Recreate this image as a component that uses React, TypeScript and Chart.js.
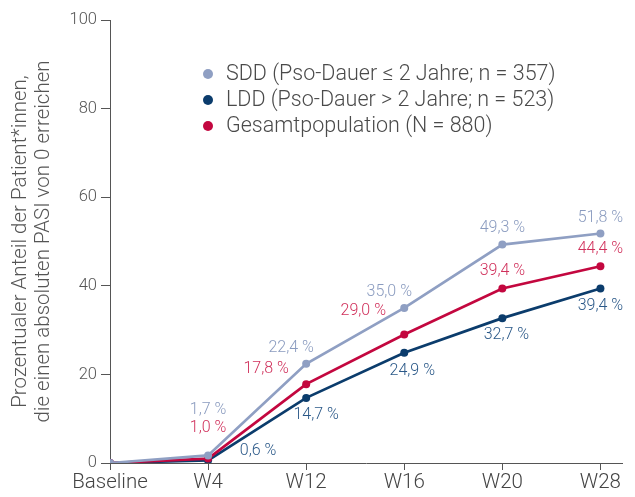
import React, { useEffect, useRef } from "react";
import { Chart, registerables } from "chart.js";

Chart.register(...registerables);

const categories = ["Baseline", "W4", "W12", "W16", "W20", "W28"];
const sddValues = [0, 1.7, 22.4, 35.0, 49.3, 51.8];
const lddValues = [0, 0.6, 14.7, 24.9, 32.7, 39.4];
const gesamtValues = [0, 1.0, 17.8, 29.0, 39.4, 44.4];
const seriesNames = [
  "SDD (Pso-Dauer ≤ 2 Jahre; n = 357)",
  "LDD (Pso-Dauer > 2 Jahre; n = 523)",
  "Gesamtpopulation (N = 880)",
];
const yTicks = [0, 20, 40, 60, 80, 100];
const yTitle = [
  "Prozentualer Anteil der Patient*innen,",
  "die einen absoluten PASI von 0 erreichen",
];

// label offsets (styling) per series and point, in px relative to the point
const sddOffsets = [null, [0, -45], [-15, -16], [-15, -16], [0, -17], [0, -16]];
const lddOffsets = [null, [50, -9], [10, 17], [8, 18], [4, 17], [0, 18]];
const gesamtOffsets = [null, [0, -31], [-40, -15], [-41, -24], [0, -17], [0, -17]];

const FONT = "Roboto";
const C_SDD = "#8f9fc3";
const C_LDD = "#0b3c6c";
const C_GES = "#c3073f";
const L_SDD = "#8a9bbf";
const L_LDD = "#2a5888";
const L_GES = "#d0305b";

const fmt = (v: number) => v.toFixed(1).replace(".", ",") + " %";

const labelPlugin = {
  id: "valueLabels",
  afterDatasetsDraw(chart: any) {
    const ctx = chart.ctx;
    ctx.save();
    ctx.font = `300 16px ${FONT}`;
    ctx.textAlign = "center";
    ctx.textBaseline = "middle";
    chart.data.datasets.forEach((ds: any, di: number) => {
      const meta = chart.getDatasetMeta(di);
      const offs = ds._offsets;
      meta.data.forEach((pt: any, i: number) => {
        const o = offs[i];
        if (!o) return;
        ctx.fillStyle = ds._labelColor;
        ctx.fillText(fmt(ds.data[i].y), pt.x + o[0], pt.y + o[1]);
      });
    });
    ctx.restore();
  },
};

const legendPlugin = {
  id: "customLegend",
  afterDraw(chart: any) {
    const ctx = chart.ctx;
    ctx.save();
    ctx.font = `300 21.5px ${FONT}`;
    ctx.textBaseline = "middle";
    ctx.textAlign = "left";
    const x0 = 208;
    const y0 = 74;
    const dy = 26;
    chart.data.datasets.forEach((ds: any, i: number) => {
      const y = y0 + i * dy;
      ctx.fillStyle = ds.borderColor;
      ctx.beginPath();
      ctx.arc(x0, y, 5, 0, Math.PI * 2);
      ctx.fill();
      ctx.fillStyle = "#4a4a4a";
      ctx.fillText(ds.label, x0 + 18, y + 1);
    });
    ctx.restore();
  },
};

export default function App() {
  const ref = useRef<HTMLCanvasElement>(null);
  useEffect(() => {
    if (!ref.current) return;
    const mk = (vals: number[]) => vals.map((y, i) => ({ x: i, y }));
    const chart = new Chart(ref.current, {
      type: "line",
      data: {
        datasets: [
          {
            label: seriesNames[0],
            data: mk(sddValues),
            borderColor: C_SDD,
            backgroundColor: C_SDD,
            borderWidth: 2.7,
            pointRadius: 4,
            pointBorderWidth: 0,
            order: 0,
            _offsets: sddOffsets,
            _labelColor: L_SDD,
          } as any,
          {
            label: seriesNames[1],
            data: mk(lddValues),
            borderColor: C_LDD,
            backgroundColor: C_LDD,
            borderWidth: 2.7,
            pointRadius: 4,
            pointBorderWidth: 0,
            order: 2,
            _offsets: lddOffsets,
            _labelColor: L_LDD,
          } as any,
          {
            label: seriesNames[2],
            data: mk(gesamtValues),
            borderColor: C_GES,
            backgroundColor: C_GES,
            borderWidth: 2.7,
            pointRadius: 4,
            pointBorderWidth: 0,
            order: 1,
            _offsets: gesamtOffsets,
            _labelColor: L_GES,
          } as any,
        ],
      },
      options: {
        animation: false,
        responsive: false,
        layout: { padding: { top: 20, right: 13, left: 0, bottom: 0 } },
        plugins: {
          legend: { display: false },
          tooltip: { enabled: false },
        },
        scales: {
          x: {
            type: "linear",
            min: 0,
            max: 5.22,
            afterBuildTicks: (s: any) => {
              s.ticks = categories.map((_, i) => ({ value: i }));
            },
            afterFit: (s: any) => {
              s.height = 34;
            },
            ticks: {
              autoSkip: false,
              maxRotation: 0,
              padding: 1,
              color: "#444",
              font: { family: FONT, size: 20.5, weight: "300" },
              callback: (v: any) => categories[v] ?? "",
            },
            grid: {
              drawOnChartArea: false,
              drawTicks: true,
              tickLength: 7,
              color: "#555",
            },
            border: { display: true, color: "#555", width: 1 },
          },
          y: {
            type: "linear",
            min: 0,
            max: 100,
            afterBuildTicks: (s: any) => {
              s.ticks = yTicks.map((v) => ({ value: v }));
            },
            afterFit: (s: any) => {
              s.width = 110;
            },
            ticks: {
              padding: 4,
              color: "#555",
              font: { family: FONT, size: 16.5, weight: "300" },
            },
            grid: {
              drawOnChartArea: false,
              drawTicks: true,
              tickLength: 9,
              color: "#555",
            },
            border: { display: true, color: "#555", width: 1 },
            title: {
              display: true,
              text: yTitle,
              color: "#555",
              font: { family: FONT, size: 20.5, weight: "300", lineHeight: 1.16 },
              padding: { top: 8.5, bottom: 0 },
            },
          },
        },
      },
      plugins: [labelPlugin, legendPlugin],
    });
    return () => chart.destroy();
  }, []);
  return (
    <canvas
      ref={ref}
      width={635}
      height={497}
      style={{ position: "absolute", left: 0, top: 0, display: "block" }}
    />
  );
}
